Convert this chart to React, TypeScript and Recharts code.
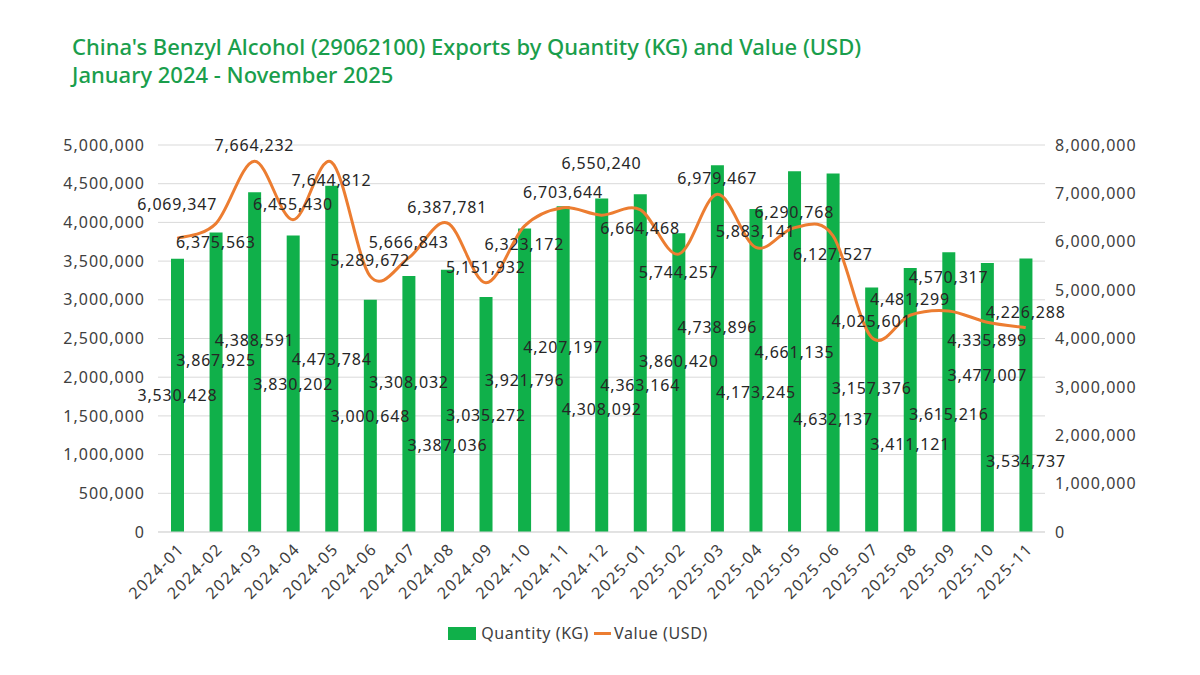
import { ComposedChart, Bar, Line, XAxis, YAxis, CartesianGrid, LabelList } from 'recharts'

const months = [
  '2024-01', '2024-02', '2024-03', '2024-04', '2024-05', '2024-06', '2024-07', '2024-08',
  '2024-09', '2024-10', '2024-11', '2024-12', '2025-01', '2025-02', '2025-03', '2025-04',
  '2025-05', '2025-06', '2025-07', '2025-08', '2025-09', '2025-10', '2025-11'
]

const quantityKg = [
  3530428, 3867925, 4388591, 3830202, 4473784, 3000648, 3308032, 3387036,
  3035272, 3921796, 4207197, 4308092, 4363164, 3860420, 4738896, 4173245,
  4661135, 4632137, 3157376, 3411121, 3615216, 3477007, 3534737
]

const valueUsd = [
  6069347, 6375563, 7664232, 6455430, 7644812, 5289672, 5666843, 6387781,
  5151932, 6323172, 6703644, 6550240, 6664468, 5744257, 6979467, 5883141,
  6290768, 6127527, 4025601, 4481299, 4570317, 4335899, 4226288
]

const quantityTicks = [0, 500000, 1000000, 1500000, 2000000, 2500000, 3000000, 3500000, 4000000, 4500000, 5000000]
const valueTicks = [0, 1000000, 2000000, 3000000, 4000000, 5000000, 6000000, 7000000, 8000000]

const data = months.map((m, i) => ({ month: m, quantity: quantityKg[i], value: valueUsd[i] }))

const GREEN = '#10b04a'
const ORANGE = '#ec7d31'
const TEXT = '#404040'
const FONT = '"Noto Sans", sans-serif'
const fmt = (v: number) => Number(v).toLocaleString('en-US')

// chart frame
const W = 1200
const H = 675
const LEFT_AXIS_W = 80
const RIGHT_AXIS_W = 100
const X_AXIS_H = 80
const margin = { top: 145, right: 55, bottom: 63, left: 78 }
const plotLeft = margin.left + LEFT_AXIS_W
const plotRight = W - margin.right - RIGHT_AXIS_W
const plotTop = margin.top
const plotBottom = H - margin.bottom - X_AXIS_H
const qtyMax = quantityTicks[quantityTicks.length - 1]
const valMax = valueTicks[valueTicks.length - 1]

// ---- data label placement: greedy, so labels don't sit on top of each other ----
type Box = { x1: number; x2: number; y1: number; y2: number }
const textWidth = (s: string) => [...s].reduce((w, c) => w + (c === ',' ? 5 : 9.9), 0)
const band = (plotRight - plotLeft) / months.length
const cx = (i: number) => plotLeft + (i + 0.5) * band
const yVal = (v: number) => plotBottom - (v / valMax) * (plotBottom - plotTop)
const yQty = (v: number) => plotBottom - (v / qtyMax) * (plotBottom - plotTop)

// axis tick labels count as occupied space
const placed: Box[] = [
  ...quantityTicks.map((t) => ({ x1: plotLeft - 100, x2: plotLeft - 10, y1: yQty(t) - 8, y2: yQty(t) + 8 })),
  ...valueTicks.map((t) => ({ x1: plotRight + 8, x2: plotRight + 100, y1: yVal(t) - 8, y2: yVal(t) + 8 }))
]
const hits = (b: Box) => placed.some((p) => b.x1 < p.x2 && b.x2 > p.x1 && b.y1 < p.y2 && b.y2 > p.y1)
const boxAt = (i: number, baseline: number, s: string): Box => {
  const w = textWidth(s) / 2 + 2
  return { x1: cx(i) - w, x2: cx(i) + w, y1: baseline - 14, y2: baseline + 4 }
}

const valueDy: number[] = valueUsd.map((v, i) => {
  const s = fmt(v)
  const py = yVal(v)
  const tries = [-10, 24, -28, 42, -46, 60]
  for (const t of tries) {
    const b = boxAt(i, py + t, s)
    if (b.y1 >= plotTop - 30 && !hits(b)) {
      placed.push(b)
      return t
    }
  }
  placed.push(boxAt(i, py - 10, s))
  return -10
})

const quantityDy: number[] = quantityKg.map((v, i) => {
  const s = fmt(v)
  const mid = (yQty(v) + plotBottom) / 2 + 6
  const tries = [0, 22, -22, 44, -44, 66, -66, 88, -88, 110, -110]
  for (const t of tries) {
    const b = boxAt(i, mid + t, s)
    if (b.y2 <= plotBottom - 4 && b.y1 >= plotTop && !hits(b)) {
      placed.push(b)
      return t + 6
    }
  }
  return 6
})

// Excel-style smoothed line (Catmull-Rom through every point)
function smoothCurve(context: any) {
  let pts: [number, number][] = []
  return {
    areaStart() {},
    areaEnd() {},
    lineStart() {
      pts = []
    },
    point(x: number, y: number) {
      pts.push([+x, +y])
    },
    lineEnd() {
      if (!pts.length) return
      context.moveTo(pts[0][0], pts[0][1])
      for (let i = 0; i < pts.length - 1; i++) {
        const p0 = pts[i - 1] || pts[i]
        const p1 = pts[i]
        const p2 = pts[i + 1]
        const p3 = pts[i + 2] || p2
        context.bezierCurveTo(
          p1[0] + (p2[0] - p0[0]) / 6,
          p1[1] + (p2[1] - p0[1]) / 6,
          p2[0] - (p3[0] - p1[0]) / 6,
          p2[1] - (p3[1] - p1[1]) / 6,
          p2[0],
          p2[1]
        )
      }
    }
  }
}

const labelStyle = { fontSize: 16, fill: '#262626', fontFamily: FONT, letterSpacing: 0.8 }

const ValueLabel = (props: any) => {
  const { x, y, value } = props
  const i = props.index ?? valueUsd.indexOf(value)
  return (
    <text x={x} y={y + valueDy[i]} textAnchor="middle" {...labelStyle}>
      {fmt(value)}
    </text>
  )
}

const QuantityLabel = (props: any) => {
  const { x, y, width, height, value } = props
  const i = props.index ?? quantityKg.indexOf(value)
  return (
    <text x={x + width / 2} y={y + height / 2 + quantityDy[i]} textAnchor="middle" {...labelStyle}>
      {fmt(value)}
    </text>
  )
}

const tickStyle = { fontSize: 16, fill: TEXT, fontFamily: FONT, letterSpacing: 1 }

export default function App() {
  return (
    <div style={{ position: 'absolute', left: 0, top: 0, width: W, height: H, background: '#fff', fontFamily: FONT }}>
      <div style={{ position: 'absolute', left: 72, top: 32, color: '#1a9e4c', fontSize: 22, lineHeight: '28px', fontWeight: 500 }}>
        <div>China's Benzyl Alcohol (29062100) Exports by Quantity (KG) and Value (USD)</div>
        <div>January 2024 - November 2025</div>
      </div>

      <ComposedChart width={W} height={H} data={data} margin={margin} style={{ position: 'absolute', left: 0, top: 0 }}>
        <CartesianGrid vertical={false} stroke="#d9d9d9" yAxisId="qty" />
        <XAxis
          dataKey="month"
          interval={0}
          angle={-45}
          textAnchor="end"
          height={X_AXIS_H}
          tickLine={false}
          axisLine={{ stroke: '#d9d9d9' }}
          tick={{ ...tickStyle, letterSpacing: 1.5 }}
          tickMargin={4}
        />
        <YAxis
          yAxisId="qty"
          width={LEFT_AXIS_W}
          domain={[0, qtyMax]}
          ticks={quantityTicks}
          tickFormatter={fmt}
          axisLine={false}
          tickLine={false}
          tickSize={6}
          tickMargin={7}
          tick={tickStyle}
        />
        <YAxis
          yAxisId="val"
          orientation="right"
          width={RIGHT_AXIS_W}
          domain={[0, valMax]}
          ticks={valueTicks}
          tickFormatter={fmt}
          axisLine={false}
          tickLine={false}
          tickSize={4}
          tickMargin={6}
          tick={tickStyle}
        />
        <Bar yAxisId="qty" dataKey="quantity" name="Quantity (KG)" fill={GREEN} barSize={13} isAnimationActive={false}>
          <LabelList dataKey="quantity" content={QuantityLabel} />
        </Bar>
        <Line
          yAxisId="val"
          dataKey="value"
          name="Value (USD)"
          type={smoothCurve as any}
          stroke={ORANGE}
          strokeWidth={3}
          dot={false}
          activeDot={false}
          isAnimationActive={false}
        >
          <LabelList dataKey="value" content={ValueLabel} />
        </Line>
      </ComposedChart>

      <div
        style={{
          position: 'absolute',
          top: 622,
          left: 0,
          width: 1156,
          display: 'flex',
          justifyContent: 'center',
          alignItems: 'center',
          fontSize: 16,
          letterSpacing: 0.6,
          color: TEXT
        }}
      >
        <span style={{ display: 'inline-block', width: 28, height: 13, background: GREEN, marginRight: 5 }} />
        <span>Quantity (KG)</span>
        <span style={{ display: 'inline-block', width: 17, height: 3, background: ORANGE, margin: '0 3px 0 5px' }} />
        <span>Value (USD)</span>
      </div>
    </div>
  )
}
